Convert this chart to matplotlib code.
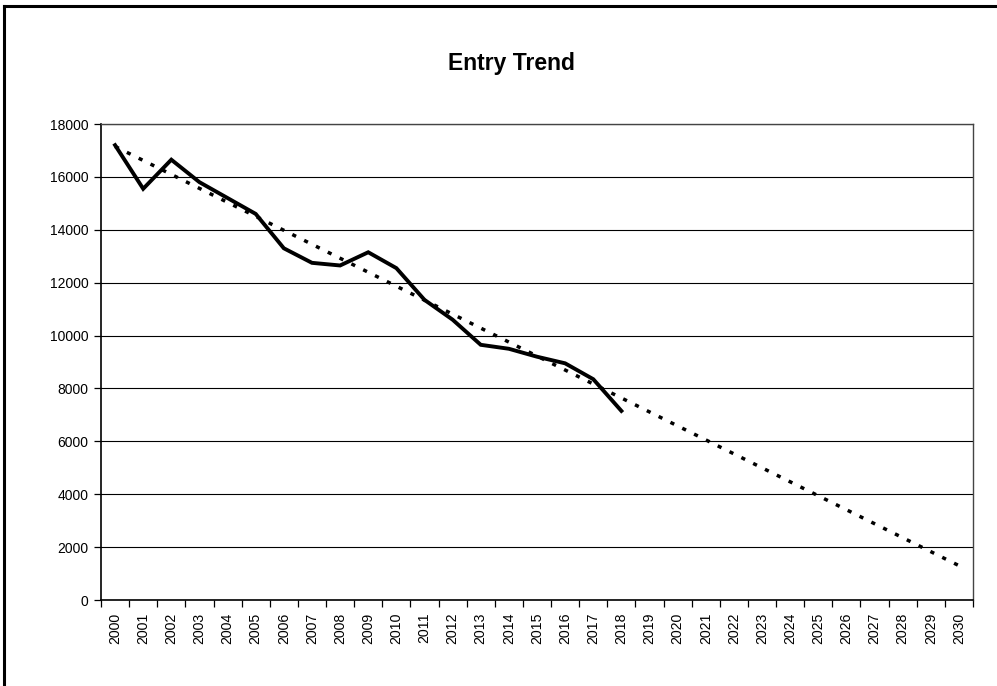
import matplotlib
matplotlib.use("Agg")
import matplotlib.pyplot as plt
from matplotlib.lines import Line2D

plt.rcParams['font.family'] = ['Liberation Sans', 'DejaVu Sans']

# data
years = [str(y) for y in range(2000, 2031)]
entries = [17200, 15550, 16650, 15800, 15200, 14600, 13300, 12750, 12650,
           13150, 12550, 11350, 10600, 9650, 9500, 9200, 8950, 8350, 7150]
trend_years = ["2000", "2030"]
trend_values = [17150, 1300]
y_ticks = list(range(0, 18001, 2000))

fig = plt.figure(figsize=(9.97, 6.86), dpi=100)
ax = fig.add_axes([101 / 997, 1 - 600 / 686, 872 / 997, 476 / 686])

pos = {y: i for i, y in enumerate(years)}
ax.plot([pos[y] for y in years[:len(entries)]], entries, color='black',
        lw=2.8, solid_joinstyle='miter', zorder=3)
ax.plot([pos[y] for y in trend_years], trend_values, color='black',
        lw=2.5, linestyle=(0, (1.2, 2.6)), dash_capstyle='butt', zorder=3)

ax.set_xlim(-0.5, len(years) - 0.5)
ax.set_ylim(0, 18000)
ax.set_yticks(y_ticks)
ax.set_yticklabels([str(v) for v in y_ticks], fontsize=10)
ax.yaxis.grid(True, color='black', lw=0.8)
ax.set_axisbelow(True)

ax.set_xticks(range(len(years)))
ax.set_xticklabels(years, rotation=90, fontsize=10.2)
ax.set_xticks([i - 0.5 for i in range(len(years) + 1)], minor=True)
ax.tick_params(axis='x', which='major', length=0, pad=9)
ax.tick_params(axis='x', which='minor', length=5, direction='out', width=0.9)
ax.tick_params(axis='y', length=5, width=0.9, pad=4)

for s in ['left', 'bottom']:
    ax.spines[s].set_linewidth(1.2)
for s in ['top', 'right']:
    ax.spines[s].set_linewidth(1.0)
    ax.spines[s].set_color('#444444')

fig.text(511 / 997, 1 - 70 / 686, "Entry Trend", ha='center', va='baseline',
         fontsize=16.5, fontweight='bold')

# outer frame (top and left edges visible)
fig.add_artist(Line2D([4 / 997, 4 / 997], [0, 1 - 6 / 686], transform=fig.transFigure,
                      color='black', lw=2.2))
fig.add_artist(Line2D([4 / 997, 1], [1 - 6 / 686, 1 - 6 / 686], transform=fig.transFigure,
                      color='black', lw=2.2))

fig.savefig("out.png", dpi=100)
